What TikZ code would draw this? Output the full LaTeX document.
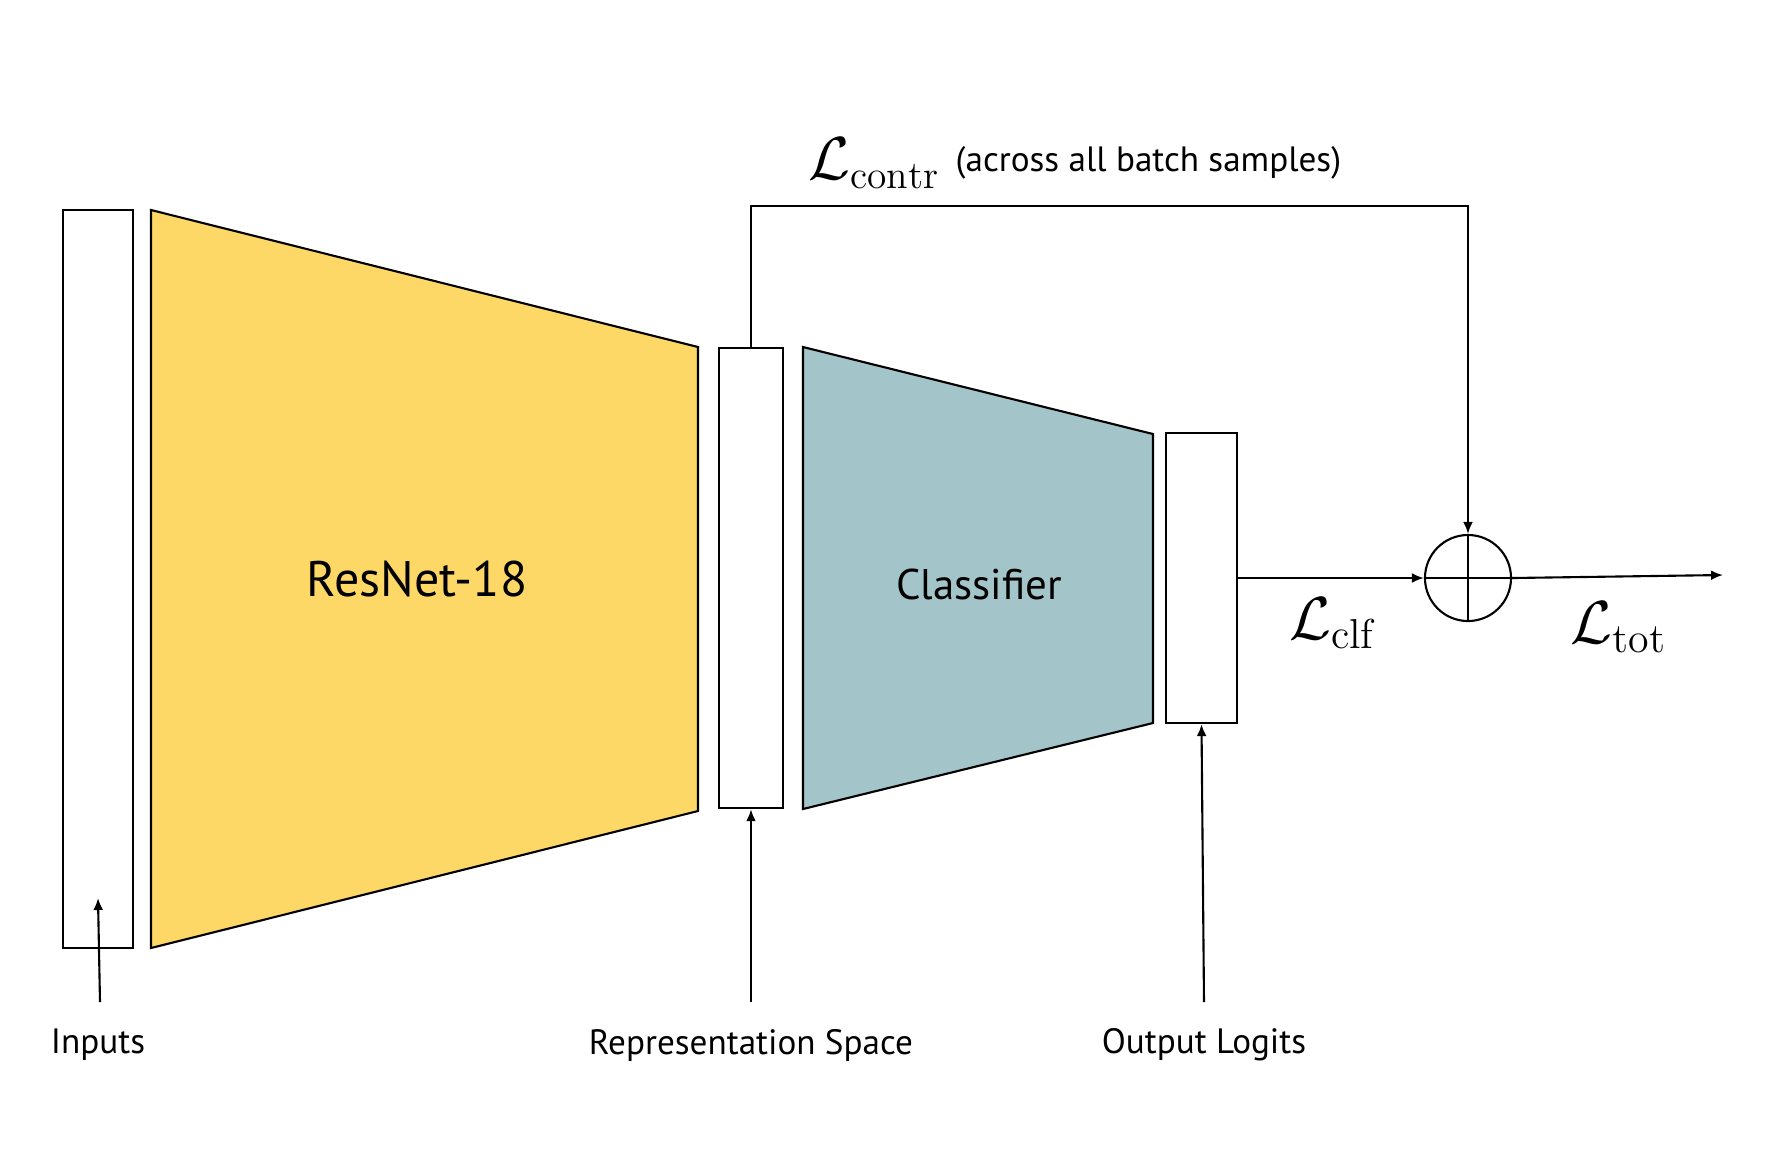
\documentclass[tikz,border=0pt]{standalone}
\usepackage{fontspec}
\newfontfamily\lab{PT Sans}
\usetikzlibrary{arrows.meta}
\definecolor{resyellow}{HTML}{FDD866}
\definecolor{clfteal}{HTML}{A3C4C9}
\tikzset{
  ln/.style={line width=0.6pt},
  arr/.style={ln,-{Latex[length=3.4pt,width=2.8pt]}},
  vecbox/.style={draw,ln,fill=white,rectangle,inner sep=0pt},
  lbl/.style={font=\lab\fontsize{10}{12}\selectfont,inner sep=0pt},
  mlbl/.style={inner sep=0pt,font=\fontsize{17}{20}\selectfont}
}
\begin{document}
\begin{tikzpicture}[x=0.01cm,y=-0.01cm]
\useasboundingbox (0,0) rectangle (1775,1162);
% input vector
\node[vecbox,minimum width=0.70cm,minimum height=7.38cm] (inp) at (98,579) {};
% ResNet trapezoid
\draw[ln,fill=resyellow] (151,210) -- (698,347) -- (698,811) -- (151,948) -- cycle;
\node[font=\lab\fontsize{14.2}{17}\selectfont,inner sep=0pt] (resnet) at (417,579) {ResNet-18};
% representation vector
\node[vecbox,minimum width=0.64cm,minimum height=4.60cm] (rep) at (751,578) {};
% Classifier trapezoid
\draw[ln,fill=clfteal] (803,347) -- (1153,434) -- (1153,723) -- (803,809) -- cycle;
\node[font=\lab\fontsize{12.2}{15}\selectfont,inner sep=0pt] (clf) at (979,584) {Classifier};
% logits vector
\node[vecbox,minimum width=0.71cm,minimum height=2.90cm] (logits) at (1201.5,578) {};
% sum node
\node[draw,ln,circle,minimum size=0.86cm,inner sep=0pt] (sum) at (1468,578) {};
\draw[ln] (sum.north) -- (sum.south);
\draw[ln] (sum.west) -- (sum.east);
% connectors
\coordinate (ctop) at (1468,206);
\draw[arr] (rep.north) |- (ctop) -- (sum.north);
\draw[arr] (logits.east) -- (sum.west);
\coordinate (out) at (1723,575);
\draw[arr] (sum.east) -- (out);
% bottom labels and arrows
\node[lbl] (linp) at (98,1045) {Inputs};
\node[lbl] (lrep) at (751,1045) {Representation Space};
\node[lbl] (llog) at (1204,1045) {Output Logits};
\coordinate (ainp) at (100,1002);
\coordinate (tinp) at (98,898);
\draw[arr] (ainp) -- (tinp);
\coordinate (arep) at (751,1002);
\draw[arr] (arep) -- (rep.south);
\coordinate (alog) at (1204,1002);
\draw[arr] (alog) -- (logits.south);
% loss labels
\node[inner sep=0pt,font=\fontsize{16}{19}\selectfont] (lcontr) at (874,163) {$\mathcal{L}_{\mathrm{contr}}$};
\node[lbl,anchor=west] (across) at (955,163) {(across all batch samples)};
\node[mlbl] (lclf) at (1332,623) {$\mathcal{L}_{\mathrm{clf}}$};
\node[mlbl] (ltot) at (1619,627) {$\mathcal{L}_{\mathrm{tot}}$};
\end{tikzpicture}
\end{document}
